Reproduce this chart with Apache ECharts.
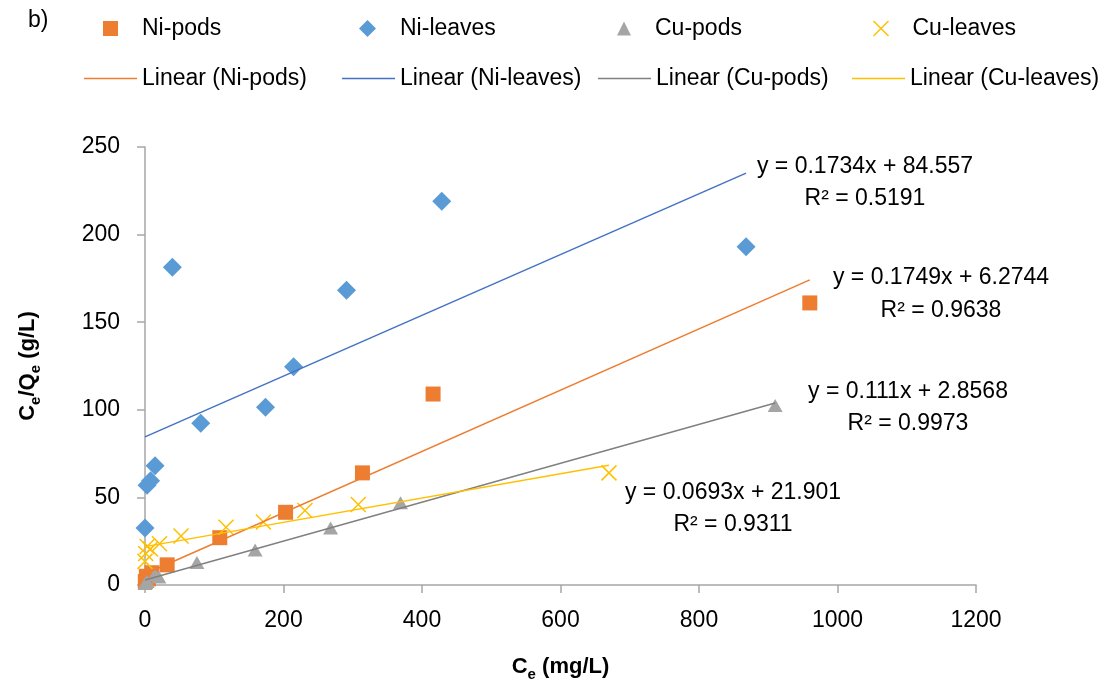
<!DOCTYPE html>
<html>
<head>
<meta charset="utf-8">
<script src="https://cdn.jsdelivr.net/npm/echarts@6/dist/echarts.min.js"></script>
<style>
  html, body { margin: 0; padding: 0; background: #fff; }
  #chart { width: 1105px; height: 679px; }
</style>
</head>
<body>
<div id="chart"></div>
<script>
const niPods = [[0.5, 2], [2, 5], [5, 3.5], [10, 7], [32, 11.5], [108, 27], [203, 41.5], [314, 64], [416, 109], [960, 161]];
const niLeaves = [[0, 32.5], [3, 57], [8, 59.5], [14.5, 68], [39.5, 181.4], [80.5, 92.3], [174, 101.4], [214.5, 124.6], [291, 168.3], [428.5, 219], [868, 193]];
const cuPods = [[0, 0.8], [3, 2], [14, 6], [20, 4.6], [75, 12.8], [159, 20], [268, 32.5], [369, 47], [910, 102.5]];
const cuLeaves = [[0, 13.5], [1, 18], [3, 22], [8, 20.5], [21, 23.5], [52, 28], [117, 33], [171, 36], [231, 42.5], [308, 46], [670, 64]];

// trend lines as shown in the equations
const trendNames = ["Linear (Ni-pods)", "Linear (Ni-leaves)", "Linear (Cu-pods)", "Linear (Cu-leaves)"];
const trendSlopes = [0.1749, 0.1734, 0.111, 0.0693];
const trendIntercepts = [6.2744, 84.557, 2.8568, 21.901];
const trendXmin = [0, 0, 0, 0];
const trendXmax = [960, 868, 910, 670];
const equationTexts = ["y = 0.1749x + 6.2744", "y = 0.1734x + 84.557", "y = 0.111x + 2.8568", "y = 0.0693x + 21.901"];
const r2Texts = ["R² = 0.9638", "R² = 0.5191", "R² = 0.9973", "R² = 0.9311"];

const xTicks = { min: 0, max: 1200, interval: 200 };
const yTicks = { min: 0, max: 250, interval: 50 };

const FONT = "Liberation Sans";
const trendColors = ["#ED7D31", "#4472C4", "#808080", "#FFC000"];
const xPath = "path://M0,0L10,10M10,0L0,10";

const chart = echarts.init(document.getElementById("chart"));

const trendSeries = trendNames.map((name, i) => ({
  name: name,
  type: "line",
  symbol: "none",
  silent: true,
  z: 3,
  lineStyle: { color: trendColors[i], width: 1.5 },
  itemStyle: { color: trendColors[i] },
  data: [
    [trendXmin[i], trendSlopes[i] * trendXmin[i] + trendIntercepts[i]],
    [trendXmax[i], trendSlopes[i] * trendXmax[i] + trendIntercepts[i]],
  ],
}));

// one legend per item so the columns line up like the original
const legendText = { fontFamily: FONT, fontSize: 23, color: "#000" };
const scatterLegend = (name, left, w, icon, itemStyle) => ({
  data: [name], left: left, top: 12, icon: icon,
  itemWidth: w, itemHeight: w, itemStyle: itemStyle,
  selectedMode: false,
  textStyle: Object.assign({ padding: [0, 0, 0, 19] }, legendText),
});
const lineLegend = (name, left, color) => ({
  data: [name], left: left, top: 62, icon: "rect",
  itemWidth: 53, itemHeight: 1.5, itemStyle: { color: color },
  selectedMode: false,
  textStyle: legendText,
});

const eqGraphic = [];
const eqPos = [[941, 278, 311], [865, 167, 199], [908, 392, 424], [733, 493, 525]];
equationTexts.forEach((t, i) => {
  eqGraphic.push({ type: "text", x: eqPos[i][0], y: eqPos[i][1], style: { text: t, font: "23px " + FONT, fill: "#000", align: "center", verticalAlign: "middle" } });
  eqGraphic.push({ type: "text", x: eqPos[i][0], y: eqPos[i][2], style: { text: r2Texts[i], font: "23px " + FONT, fill: "#000", align: "center", verticalAlign: "middle" } });
});
eqGraphic.push({ type: "text", x: 28, y: 21, style: { text: "b)", font: "23px " + FONT, fill: "#000", verticalAlign: "middle" } });

const nameRich = {
  a: { fontFamily: FONT, fontSize: 22, fontWeight: "bold", color: "#000", lineHeight: 30, verticalAlign: "middle" },
  s: { fontFamily: FONT, fontSize: 15, fontWeight: "bold", color: "#000", lineHeight: 15, verticalAlign: "bottom" },
};

const option = {
  animation: false,
  grid: { left: 145, right: 129, top: 147, bottom: 94, containLabel: false, outerBoundsMode: "none" },
  legend: [
    scatterLegend("Ni-pods", 98, 15, "rect", { color: "#ED7D31" }),
    scatterLegend("Ni-leaves", 354, 17, "diamond", { color: "#5B9BD5" }),
    scatterLegend("Cu-pods", 612, 14, "triangle", { color: "#A5A5A5" }),
    scatterLegend("Cu-leaves", 866, 15, xPath, { color: "none", borderColor: "#FFC000", borderWidth: 1.5 }),
    lineLegend("Linear (Ni-pods)", 79, trendColors[0]),
    lineLegend("Linear (Ni-leaves)", 337, trendColors[1]),
    lineLegend("Linear (Cu-pods)", 593, trendColors[2]),
    lineLegend("Linear (Cu-leaves)", 847, trendColors[3]),
  ],
  xAxis: {
    type: "value",
    min: xTicks.min, max: xTicks.max, interval: xTicks.interval,
    name: "{a|C}{s|e}{a| (mg/L)}",
    nameLocation: "middle",
    nameGap: 67,
    nameTextStyle: { rich: nameRich },
    axisLine: { show: true, lineStyle: { color: "#A6A6A6", width: 1.5 } },
    axisTick: { show: true, length: 8, lineStyle: { color: "#A6A6A6", width: 1.5 } },
    axisLabel: { margin: 24, fontFamily: FONT, fontSize: 23, color: "#000", formatter: (v) => String(v) },
    splitLine: { show: false },
  },
  yAxis: {
    type: "value",
    min: yTicks.min, max: yTicks.max, interval: yTicks.interval,
    name: "{a|C}{s|e}{a|/Q}{s|e}{a| (g/L)}",
    nameLocation: "middle",
    nameGap: 102,
    nameTextStyle: { rich: nameRich },
    axisLine: { show: true, lineStyle: { color: "#A6A6A6", width: 1.5 } },
    axisTick: { show: true, length: 8, lineStyle: { color: "#A6A6A6", width: 1.5 } },
    axisLabel: { margin: 25, fontFamily: FONT, fontSize: 23, color: "#000", formatter: (v) => String(v) },
    splitLine: { show: false },
  },
  graphic: eqGraphic,
  series: [
    { name: "Ni-pods", type: "scatter", symbol: "rect", symbolSize: 15, z: 2, itemStyle: { color: "#ED7D31", opacity: 1 }, data: niPods },
    { name: "Ni-leaves", type: "scatter", symbol: "diamond", symbolSize: 19, z: 2, itemStyle: { color: "#5B9BD5", opacity: 1 }, data: niLeaves },
    { name: "Cu-pods", type: "scatter", symbol: "triangle", symbolSize: [15, 13], z: 2, itemStyle: { color: "#A5A5A5", opacity: 1 }, data: cuPods },
    { name: "Cu-leaves", type: "scatter", symbol: xPath, symbolSize: 15, z: 2, itemStyle: { color: "none", borderColor: "#FFC000", borderWidth: 1.5, opacity: 1 }, data: cuLeaves },
  ].concat(trendSeries),
};

chart.setOption(option);
</script>
</body>
</html>
